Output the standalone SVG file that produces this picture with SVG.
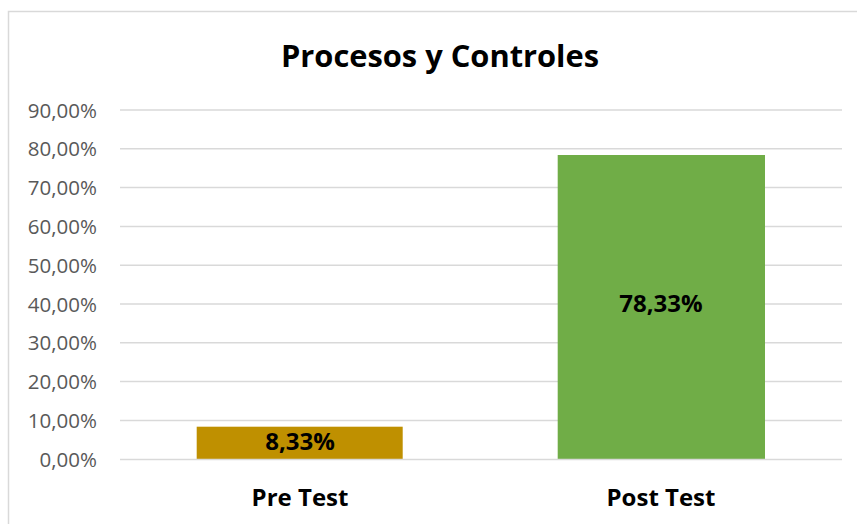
<svg xmlns="http://www.w3.org/2000/svg" width="857" height="524" viewBox="0 0 857 524">
<style>
.grid{stroke:#D9D9D9;stroke-width:1.5}
.ax{font-family:"Open Sans","Liberation Sans",sans-serif;font-size:20.5px;fill:#595959;text-anchor:end}
.cat{font-family:"Open Sans","Liberation Sans",sans-serif;font-size:24px;font-weight:bold;fill:#000;text-anchor:middle}
.val{font-family:"Open Sans","Liberation Sans",sans-serif;font-size:24px;font-weight:bold;fill:#000;text-anchor:middle}
</style>
<rect x="0" y="0" width="857" height="524" fill="#fff"/>
<rect x="8.5" y="11.5" width="860" height="530" fill="#fff" stroke="#D9D9D9" stroke-width="1.5"/>
<g id="title"><text x="440" y="67" font-family="'Open Sans','Liberation Sans',sans-serif" font-size="31" font-weight="bold" text-anchor="middle" textLength="318" lengthAdjust="spacingAndGlyphs">Procesos y Controles</text></g>
<g id="gridlines">
<line class="grid" x1="120" y1="110" x2="842" y2="110"/>
<line class="grid" x1="120" y1="148.8" x2="842" y2="148.8"/>
<line class="grid" x1="120" y1="187.6" x2="842" y2="187.6"/>
<line class="grid" x1="120" y1="226.4" x2="842" y2="226.4"/>
<line class="grid" x1="120" y1="265.2" x2="842" y2="265.2"/>
<line class="grid" x1="120" y1="304" x2="842" y2="304"/>
<line class="grid" x1="120" y1="342.8" x2="842" y2="342.8"/>
<line class="grid" x1="120" y1="381.6" x2="842" y2="381.6"/>
<line class="grid" x1="120" y1="420.4" x2="842" y2="420.4"/>
</g>
<g id="axis-labels">
<text class="ax" x="97" y="117.5">90,00%</text>
<text class="ax" x="97" y="156.3">80,00%</text>
<text class="ax" x="97" y="195.1">70,00%</text>
<text class="ax" x="97" y="233.9">60,00%</text>
<text class="ax" x="97" y="272.7">50,00%</text>
<text class="ax" x="97" y="311.5">40,00%</text>
<text class="ax" x="97" y="350.3">30,00%</text>
<text class="ax" x="97" y="389.1">20,00%</text>
<text class="ax" x="97" y="427.9">10,00%</text>
<text class="ax" x="97" y="466.7">0,00%</text>
</g>
<g id="bar-pre">
<rect x="196.7" y="426.7" width="206" height="32.8" fill="#BF9000"/>
<text class="val" x="300" y="449.5">8,33%</text>
</g>
<g id="bar-post">
<rect x="557.7" y="155" width="207.3" height="304.5" fill="#70AD47"/>
<text class="val" x="661" y="312">78,33%</text>
</g>
<line class="grid" x1="120" y1="459.5" x2="842" y2="459.5"/>
<g id="categories">
<text class="cat" x="300" y="506">Pre Test</text>
<text class="cat" x="661" y="506">Post Test</text>
</g>
</svg>
